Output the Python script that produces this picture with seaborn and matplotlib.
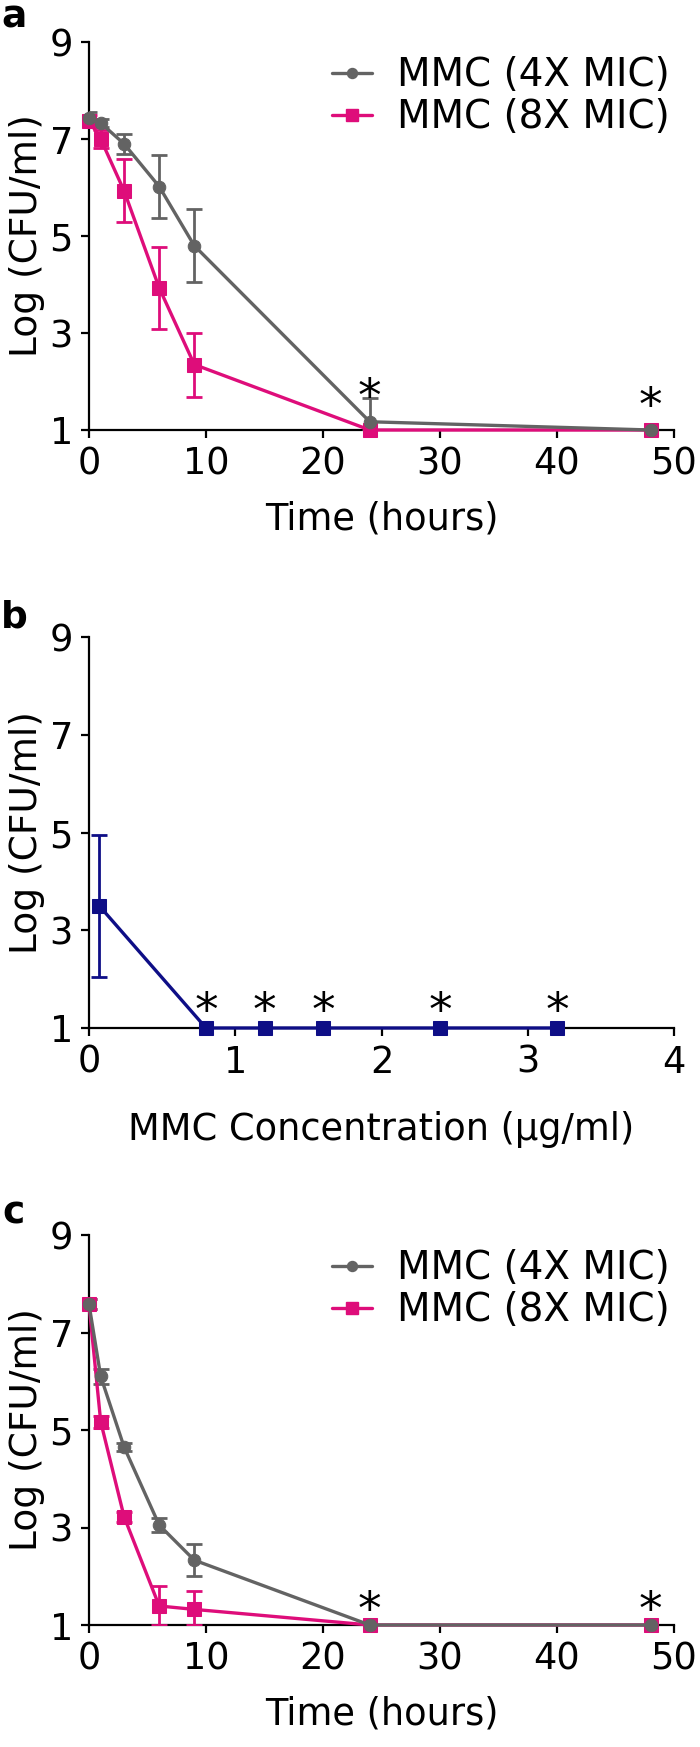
import numpy as np
import pandas as pd
import matplotlib
matplotlib.use("Agg")
import matplotlib.pyplot as plt
import seaborn as sns

# ---- data ----
time_h = [0, 1, 3, 6, 9, 24, 48]

# panel a
a_4x = [7.43, 7.33, 6.9, 6.02, 4.8, 1.17, 1.0]
a_4x_err = [0.12, 0.08, 0.2, 0.65, 0.75, 0.5, 0.0]
a_8x = [7.38, 7.0, 5.93, 3.93, 2.35, 1.0, 1.0]
a_8x_err = [0.12, 0.18, 0.65, 0.85, 0.66, 0.0, 0.0]
a_star_x = [24, 48]
a_star_y = [1.95, 1.76]

# panel b
conc = [0.07, 0.8, 1.2, 1.6, 2.4, 3.2]
b_vals = [3.5, 1.0, 1.0, 1.0, 1.0, 1.0]
b_err = [1.45, 0.0, 0.0, 0.0, 0.0, 0.0]
b_star_x = [0.8, 1.2, 1.6, 2.4, 3.2]
b_star_y = [1.62, 1.62, 1.62, 1.62, 1.62]

# panel c
c_4x = [7.58, 6.1, 4.65, 3.05, 2.33, 1.0, 1.0]
c_4x_err = [0.1, 0.15, 0.08, 0.15, 0.33, 0.0, 0.0]
c_8x = [7.58, 5.17, 3.22, 1.39, 1.32, 1.0, 1.0]
c_8x_err = [0.1, 0.12, 0.1, 0.4, 0.37, 0.0, 0.0]
c_star_x = [24, 48]
c_star_y = [1.58, 1.58]

labels = ["MMC (4X MIC)", "MMC (8X MIC)"]
GRAY = "#636363"
PINK = "#DE0D7A"
NAVY = "#0E0E86"

sns.set_style("ticks")
plt.rcParams["font.family"] = ["DejaVu Sans"]
plt.rcParams["text.color"] = "black"
plt.rcParams["axes.labelcolor"] = "black"
plt.rcParams["axes.linewidth"] = 1.6
plt.rcParams["xtick.major.width"] = 1.6
plt.rcParams["ytick.major.width"] = 1.6
plt.rcParams["xtick.major.size"] = 6
plt.rcParams["ytick.major.size"] = 6
plt.rcParams["xtick.color"] = "black"
plt.rcParams["ytick.color"] = "black"
plt.rcParams["axes.edgecolor"] = "black"

FS_TICK = 26.5
FS_LAB = 26.5
FS_LEG = 28
MS_SQ = 10.5
MS_CI = 9


def serie(ax, x, y, err, color, marker, ms):
    x = np.asarray(x, float)
    y = np.asarray(y, float)
    err = np.asarray(err, float)
    df = pd.DataFrame({"x": x, "y": y})
    m = err > 0
    lo = np.minimum(err, y - 1)
    ax.errorbar(x[m], y[m], yerr=[lo[m], err[m]], fmt="none", ecolor=color,
                elinewidth=2.0, capsize=5.5, capthick=2.0, zorder=3)
    sns.lineplot(data=df, x="x", y="y", ax=ax, color=color, marker=marker,
                 markersize=ms, markeredgecolor=color, linewidth=2.4,
                 clip_on=False, zorder=4, legend=False)


def estrellas(ax, xs, ys):
    # glyph centre of "*" sits above the text box centre, shift down
    for x, y in zip(xs, ys):
        ax.annotate("*", (x, y), xytext=(0, -10.5), textcoords="offset points",
                    ha="center", va="center", fontsize=34, color="black")


def ajustar(ax, xlim, xticks, xlabel, xlab_y):
    ax.set_xlim(*xlim)
    ax.set_ylim(1, 9)
    ax.set_xticks(xticks)
    ax.set_yticks([1, 3, 5, 7, 9])
    ax.tick_params(labelsize=FS_TICK, pad=5.5, labelcolor="black")
    ax.set_xlabel(xlabel, fontsize=FS_LAB, va="center", color="black")
    ax.set_ylabel("Log (CFU/ml)", fontsize=27, color="black")
    ax.xaxis.set_label_coords(0.5, xlab_y)
    ax.yaxis.set_label_coords(-0.075, 0.5)
    sns.despine(ax=ax)


fig = plt.figure(figsize=(7, 17.47), dpi=100)
L, W = 89 / 700, 585 / 700
ax_a = fig.add_axes([L, 1 - 430 / 1747, W, 388 / 1747])
ax_b = fig.add_axes([L, 1 - 1028 / 1747, W, 391 / 1747])
ax_c = fig.add_axes([L, 1 - 1625 / 1747, W, 390 / 1747])

# panel a
serie(ax_a, time_h, a_8x, a_8x_err, PINK, "s", MS_SQ)
serie(ax_a, time_h, a_4x, a_4x_err, GRAY, "o", MS_CI)
estrellas(ax_a, a_star_x, a_star_y)
ajustar(ax_a, (0, 50), [0, 10, 20, 30, 40, 50], "Time (hours)", -0.23)

# panel b
serie(ax_b, conc, b_vals, b_err, NAVY, "s", MS_SQ)
estrellas(ax_b, b_star_x, b_star_y)
ajustar(ax_b, (0, 4), [0, 1, 2, 3, 4], "MMC Concentration (\u03bcg/ml)", -0.26)

# panel c
serie(ax_c, time_h, c_8x, c_8x_err, PINK, "s", MS_SQ)
serie(ax_c, time_h, c_4x, c_4x_err, GRAY, "o", MS_CI)
estrellas(ax_c, c_star_x, c_star_y)
ajustar(ax_c, (0, 50), [0, 10, 20, 30, 40, 50], "Time (hours)", -0.228)

# legends (gray first)
for ax in (ax_a, ax_c):
    h4 = plt.Line2D([], [], color=GRAY, marker="o", markersize=MS_CI * 0.8, linewidth=2.4)
    h8 = plt.Line2D([], [], color=PINK, marker="s", markersize=MS_SQ * 0.8, linewidth=2.4)
    leg = ax.legend([h4, h8], labels, loc="upper left", bbox_to_anchor=(0.415, 0.963),
                    frameon=False, fontsize=FS_LEG, handlelength=1.03, handletextpad=0.64,
                    labelspacing=0.1, borderpad=0, borderaxespad=0)
    for t in leg.get_texts():
        t.set_color("black")

for txt, y in (("a", 17), ("b", 617), ("c", 1214)):
    fig.text(14 / 700, 1 - y / 1747, txt, fontsize=27, fontweight="bold",
             va="center", ha="center", color="black")

fig.savefig("out.png", dpi=100)
